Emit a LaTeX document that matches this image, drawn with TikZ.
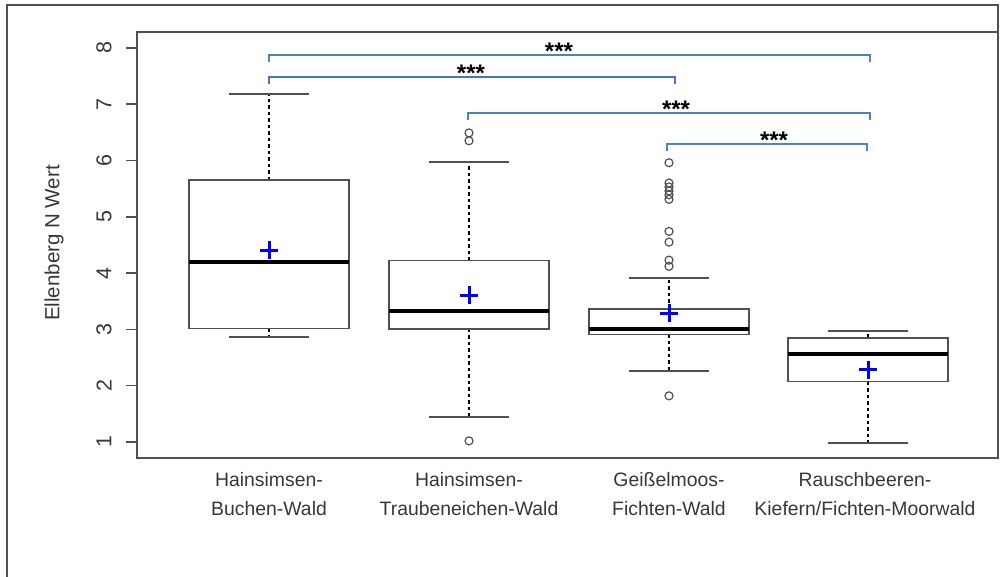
\documentclass[tikz,border=0pt]{standalone}
\usepackage{fontspec}
\setmainfont{Liberation Sans}
\usetikzlibrary{positioning}
\definecolor{framegray}{RGB}{80,80,80}
\definecolor{textgray}{RGB}{55,55,55}
\definecolor{sigblue}{RGB}{79,129,189}

\begin{document}
\begin{tikzpicture}[x=1pt, y=1pt,
  frame/.style={draw=framegray, line width=1.6pt},
  boxline/.style={draw=framegray, line width=1.4pt},
  median/.style={draw=black, line width=3.5pt},
  whisker/.style={draw=black, line width=1.2pt, dash pattern=on 3.5pt off 3pt},
  capline/.style={draw=framegray, line width=1.8pt},
  outlier/.style={draw=framegray, line width=1.2pt},
  meancross/.style={draw=blue, line width=3pt},
  sigline/.style={draw=sigblue, line width=1.5pt},
  stars/.style={font=\fontsize{24}{24}\selectfont\bfseries, anchor=base, inner sep=0pt},
  ticklabel/.style={font=\fontsize{21.5}{21.5}\selectfont, text=textgray, rotate=90},
  grouplabel/.style={font=\fontsize{19.4}{29}\selectfont, text=textgray, align=center}]

  \useasboundingbox (0,0) rectangle (1000,577);
  \draw[frame] (7,0) -- (7,572) -- (998,572) -- (998,545);
  \draw[frame] (137,119) rectangle (998,545);
  \node[rotate=90, font=\fontsize{20.5}{20.5}\selectfont, text=textgray] (ylab) at (54,334) {Ellenberg N Wert};

  \begin{scope}[shift={(0pt,78.7pt)}, y=56.3pt]
    \foreach \v in {1,...,8} {
      \draw[frame] (126,\v) -- (137,\v);
      \node[ticklabel] (tick\v) at (104,\v) {\v};
    }
    \foreach \i/\cx/\lo/\qa/\md/\qb/\hi/\mn in
      {1/269/2.87/3.02/4.20/5.65/7.18/4.41,
       2/469/1.45/3.01/3.33/4.22/5.97/3.61,
       3/669/2.26/2.91/3.01/3.36/3.91/3.29,
       4/868/0.98/2.07/2.56/2.85/2.97/2.28} {
      \draw[whisker] (\cx,\qb) -- (\cx,\hi);
      \draw[whisker] (\cx,\qa) -- (\cx,\lo);
      \draw[capline] (\cx-40,\hi) -- (\cx+40,\hi);
      \draw[capline] (\cx-40,\lo) -- (\cx+40,\lo);
      \draw[boxline, fill=white] (\cx-80,\qa) rectangle (\cx+80,\qb);
      \draw[median] (\cx-80,\md) -- (\cx+80,\md);
      \coordinate (mean\i) at (\cx,\mn);
      \draw[meancross] (mean\i) ++(-9pt,0pt) -- ++(18pt,0pt);
      \draw[meancross] (mean\i) ++(0pt,-9pt) -- ++(0pt,18pt);
    }
    \foreach \cx/\v in {469/1.02, 469/6.35, 469/6.49,
                        669/1.82, 669/4.12, 669/4.23, 669/4.55, 669/4.74,
                        669/5.31, 669/5.39, 669/5.46, 669/5.53, 669/5.60, 669/5.96}
      \draw[outlier] (\cx,\v) circle[radius=4pt];
  \end{scope}

  \foreach \i/\a/\b/\y/\sx in {1/269/870/522/559, 2/269/675/500/471,
                               3/468/870/464/676, 4/667/867/433/774} {
    \coordinate (sl\i) at (\a,\y-7);
    \coordinate (sr\i) at (\b,\y-7);
    \draw[sigline] (sl\i) |- (\b,\y) -- (sr\i);
    \node[stars] (st\i) at (\sx,\y-5) {***};
  }
  \draw[sigline, line width=2.6pt, draw=sigblue!90!blue] (sl2) |- (675,500) -- (sr2);

  \node[grouplabel] (g1) at (269,83) {Hainsimsen-\\Buchen-Wald};
  \node[grouplabel] (g2) at (469,83) {Hainsimsen-\\Traubeneichen-Wald};
  \node[grouplabel] (g3) at (669,83) {Geißelmoos-\\Fichten-Wald};
  \node[grouplabel] (g4) at (865,83) {Rauschbeeren-\\Kiefern/Fichten-Moorwald};
\end{tikzpicture}
\end{document}
